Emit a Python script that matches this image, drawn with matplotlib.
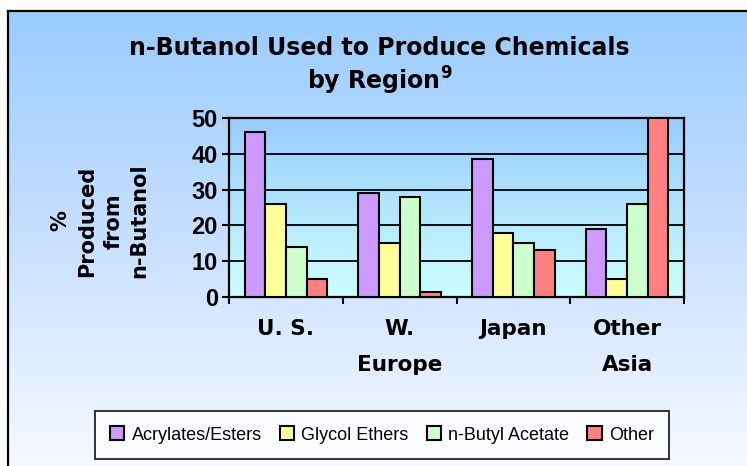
import numpy as np
import matplotlib
matplotlib.use("Agg")
import matplotlib.pyplot as plt
from matplotlib.colors import LinearSegmentedColormap

plt.rcParams['font.family'] = ['Liberation Sans', 'DejaVu Sans']
plt.rcParams['mathtext.fontset'] = 'custom'
plt.rcParams['mathtext.rm'] = 'DejaVu Sans:bold'
plt.rcParams['mathtext.bf'] = 'DejaVu Sans:bold'

# ---- data ----
regions = ["U. S.", "W.\nEurope", "Japan", "Other\nAsia"]
series_names = ["Acrylates/Esters", "Glycol Ethers", "n-Butyl Acetate", "Other"]
acrylates = [46, 29, 38.5, 19]
glycol = [26, 15, 18, 5]
butyl_acetate = [14, 28, 15, 26]
other = [5, 1.5, 13, 50]
series_values = [acrylates, glycol, butyl_acetate, other]
colors = ["#CC99FF", "#FFFF99", "#CCFFCC", "#FF8080"]
yticks = [0, 10, 20, 30, 40, 50]

WIDE = ['DejaVu Sans']

W, H = 747, 466
fig = plt.figure(figsize=(W / 100, H / 100), dpi=100)
fig.patch.set_facecolor("white")

# background panel with gradient and frame (left/top visible)
bg = fig.add_axes([8 / W, 0, 1 - 8 / W, (H - 11) / H], zorder=0)
bg_cmap = LinearSegmentedColormap.from_list("bg", ["#99CCFF", "#C8E0FF", "#F6F9FF"])
grad = np.linspace(0, 1, 256).reshape(-1, 1)
bg.imshow(grad, aspect="auto", cmap=bg_cmap, extent=[0, 1, 0, 1], origin="upper")
bg.set_xlim(0, 1); bg.set_ylim(0, 1)
bg.set_xticks([]); bg.set_yticks([])
for s in ["right", "bottom"]:
    bg.spines[s].set_visible(False)
for s in ["left", "top"]:
    bg.spines[s].set_linewidth(1.6)
    bg.spines[s].set_color("black")

# main axes
ax = fig.add_axes([229 / W, 1 - 297 / H, (684 - 229) / W, (297 - 118) / H], zorder=2)
pa_cmap = LinearSegmentedColormap.from_list("pa", ["#99CCFF", "#CCFFFF"])
ax.imshow(grad, aspect="auto", cmap=pa_cmap, extent=[0, 4, 0, 50], origin="upper", zorder=0)

n = len(series_values)
cat_w = 1.0
bar_w = cat_w / (n + 1.5)
x = np.arange(len(regions)) + 0.5
for i, (vals, c, name) in enumerate(zip(series_values, colors, series_names)):
    offs = (i - (n - 1) / 2) * bar_w
    ax.bar(x + offs, vals, width=bar_w, color=c, edgecolor="black", linewidth=1.5,
           label=name, zorder=3)

ax.set_xlim(0, 4)
ax.set_ylim(0, 50)
for v in yticks[1:-1]:
    ax.axhline(v, color="black", lw=1.3, zorder=1)
ax.set_yticks(yticks)
ax.set_yticklabels([str(v) for v in yticks], fontsize=17, fontweight="bold")
ax.set_xticks([0, 1, 2, 3, 4])
ax.set_xticklabels([])
ax.set_xticks(x, minor=True)
ax.set_xticklabels(regions, minor=True, fontsize=15.5, fontweight="bold", linespacing=2.0,
                   family=WIDE)
ax.tick_params(axis="x", which="minor", length=0, pad=16)
ax.tick_params(axis="x", which="major", direction="out", length=5, width=1.5)
ax.tick_params(axis="y", direction="out", length=5, width=1.5, pad=3)
for s in ax.spines.values():
    s.set_linewidth(1.6)
    s.set_color("black")

# title
fig.text(0.508, 1 - 48 / H, "n-Butanol Used to Produce Chemicals", ha="center", va="center",
         fontsize=17, fontweight="bold", family=WIDE)
fig.text(0.508, 1 - 81 / H, r"by Region$^{9}$", ha="center", va="center",
         fontsize=17, fontweight="bold", family=WIDE)

# y label
fig.text(100 / W, 1 - 221 / H, "%\nProduced\nfrom\nn-Butanol", rotation=90,
         ha="center", va="center", multialignment="center",
         fontsize=15, fontweight="bold", linespacing=1.4, zorder=3, family=WIDE)

# legend
handles, labels = ax.get_legend_handles_labels()
leg = fig.legend(handles, labels, loc="center", bbox_to_anchor=(382 / W, 1 - 435 / H),
                 ncol=4, frameon=True, fancybox=False, fontsize=13,
                 handlelength=0.8, handleheight=0.8, handletextpad=0.4,
                 columnspacing=1.0, borderpad=0.85)
leg.get_frame().set_edgecolor("black")
leg.get_frame().set_linewidth(1.4)
leg.get_frame().set_facecolor("white")
leg.set_zorder(5)

fig.savefig("out.png", dpi=100)
